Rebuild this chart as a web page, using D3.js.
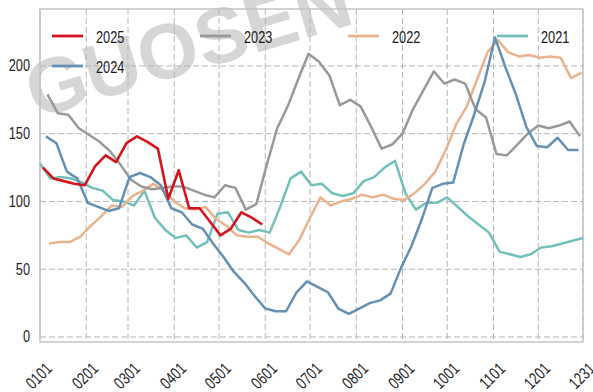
<!DOCTYPE html>
<html>
<head>
<meta charset="utf-8">
<script src="https://cdn.jsdelivr.net/npm/d3@7"></script>
<style>
  html, body { margin: 0; padding: 0; background: #fff; }
  #chart { width: 593px; height: 392px; }
</style>
</head>
<body>
<div id="chart"></div>
<script>
// tick labels on the x axis (MMDD)
const tickLabels = ["0101", "0201", "0301", "0401", "0501", "0601", "0701", "0801", "0901", "1001", "1101", "1201", "1231"];
const yTicks = [0, 50, 100, 150, 200];

const years = ["2025", "2024", "2023", "2022", "2021"];
// first weekly date of every year (data are weekly, on Fridays)
const firstDate = { "2025": "0103", "2024": "0105", "2023": "0106", "2022": "0107", "2021": "0101" };

const v2025 = [125, 117, 115, 113, 112, 126, 134, 129, 143, 148, 144, 139, 102, 123, 95, 95, 85, 75, 80, 92, 88, 83];
const v2024 = [148, 143, 122, 117, 99, 96, 93, 95, 118, 121, 118, 112, 95, 92, 83, 80, 69, 59, 48, 40,
  30, 21, 19, 19, 33, 41, 37, 33, 21, 17, 21, 25, 27, 32, 51, 67, 87, 110, 113, 114,
  142, 164, 188, 221, 199, 179, 155, 141, 140, 147, 138, 138];
const v2023 = [179, 165, 164, 154, 149, 144, 137, 127, 116, 111, 109, 110, 111, 111, 108, 105, 103, 112, 110, 94,
  98, 127, 154, 170, 190, 209, 203, 193, 171, 175, 170, 155, 139, 142, 150, 168, 182, 196, 187, 190,
  187, 168, 162, 135, 134, 142, 150, 156, 154, 156, 159, 148];
const v2022 = [69, 70, 70, 74, 82, 89, 97, 96, 104, 108, 113, 108, 100, 95, 94, 96, 87, 82, 75, 74,
  74, 69, 65, 61, 72, 88, 103, 97, 100, 102, 105, 103, 105, 102, 101, 106, 113, 122, 138, 157,
  170, 190, 210, 219, 210, 207, 208, 206, 207, 206, 191, 195];
const v2021 = [128, 117, 118, 117, 114, 110, 108, 101, 100, 97, 108, 88, 79, 73, 75, 66, 70, 91, 92, 79,
  77, 79, 77, 96, 117, 122, 112, 113, 106, 104, 106, 115, 118, 125, 130, 106, 94, 99, 99, 103,
  96, 89, 83, 77, 63, 61, 59, 61, 66, 67, 69, 71, 73];

const valuesByYear = { "2025": v2025, "2024": v2024, "2023": v2023, "2022": v2022, "2021": v2021 };
const colors = { "2025": "#d4151f", "2024": "#6690b2", "2023": "#999999", "2022": "#eab38e", "2021": "#72c0b9" };

const width = 593, height = 392;
const plotLeft = 40, plotRight = 583, plotTop = 9, plotBottom = 342;
const font = "'Liberation Sans', Arial, sans-serif";
const digitW = 7.1; // narrow digits, as in the original

// day of year (non-leap) from MMDD
const cumDays = [0, 31, 59, 90, 120, 151, 181, 212, 243, 273, 304, 334];
function dayOf(mmdd) {
  return cumDays[+mmdd.slice(0, 2) - 1] + (+mmdd.slice(2)) - 1;
}

const x = d3.scaleLinear().domain([0, 364]).range([plotLeft, plotRight]);
const y = d3.scaleLinear().domain([-3.7, 242]).range([plotBottom, plotTop]);

const svg = d3.select("#chart").append("svg")
  .attr("width", width)
  .attr("height", height)
  .style("font-family", font);

// watermark
svg.append("g")
  .attr("transform", "translate(188,44) rotate(-16.6)")
  .append("text")
  .attr("y", 28)
  .attr("text-anchor", "middle")
  .attr("font-weight", "bold")
  .attr("font-size", "78px")
  .attr("textLength", 335)
  .attr("lengthAdjust", "spacingAndGlyphs")
  .attr("fill", "#d6d6d6")
  .text("GUOSEN");

// grid
const grid = svg.append("g");
grid.selectAll(".hgrid").data(yTicks).join("line")
  .attr("x1", plotLeft).attr("x2", plotRight)
  .attr("y1", d => y(d)).attr("y2", d => y(d))
  .attr("stroke", "#b5b5b5").attr("stroke-width", 1)
  .attr("stroke-dasharray", "6,3");
grid.selectAll(".vgrid").data(tickLabels).join("line")
  .attr("x1", d => x(dayOf(d))).attr("x2", d => x(dayOf(d)))
  .attr("y1", plotTop).attr("y2", plotBottom)
  .attr("stroke", "#b5b5b5").attr("stroke-width", 1)
  .attr("stroke-dasharray", "6,3");

// frame
svg.append("rect")
  .attr("x", plotLeft).attr("y", plotTop)
  .attr("width", plotRight - plotLeft).attr("height", plotBottom - plotTop)
  .attr("fill", "none")
  .attr("stroke", "#c4c4c4")
  .attr("stroke-width", 1.5);

// y axis labels
svg.append("g").selectAll("text").data(yTicks).join("text")
  .attr("x", 30)
  .attr("y", d => y(d))
  .attr("text-anchor", "end")
  .attr("dominant-baseline", "central")
  .attr("font-size", "17px")
  .attr("textLength", d => String(d).length * digitW)
  .attr("lengthAdjust", "spacingAndGlyphs")
  .attr("fill", "#262626")
  .text(d => d);

// x axis labels, rotated
svg.append("g").selectAll("text").data(tickLabels).join("text")
  .attr("transform", d => `translate(${x(dayOf(d)) - 1},376) rotate(-45)`)
  .attr("text-anchor", "middle")
  .attr("dominant-baseline", "central")
  .attr("font-size", "17px")
  .attr("textLength", d => d.length * digitW)
  .attr("lengthAdjust", "spacingAndGlyphs")
  .attr("fill", "#262626")
  .text(d => d);

// lines
const line = d3.line()
  .x(d => x(d.day))
  .y(d => y(d.value));

const drawOrder = ["2021", "2022", "2023", "2024", "2025"];
drawOrder.forEach(yr => {
  const start = dayOf(firstDate[yr]);
  const pts = valuesByYear[yr].map((v, i) => ({ day: start + 7 * i, value: v }));
  svg.append("path")
    .datum(pts)
    .attr("d", line)
    .attr("fill", "none")
    .attr("stroke", colors[yr])
    .attr("stroke-width", yr === "2025" ? 2.6 : 2.5)
    .attr("stroke-linejoin", "round");
});

// legend: 4 columns, filled column by column
const legendPos = {
  "2025": [52, 36], "2024": [52, 66],
  "2023": [200, 36], "2022": [348, 36], "2021": [497, 36]
};
const legend = svg.append("g");
years.forEach(yr => {
  const [lx, ly] = legendPos[yr];
  legend.append("line")
    .attr("x1", lx).attr("x2", lx + 31)
    .attr("y1", ly).attr("y2", ly)
    .attr("stroke", colors[yr])
    .attr("stroke-width", 2.8);
  legend.append("text")
    .attr("x", lx + 44)
    .attr("y", ly + 1)
    .attr("dominant-baseline", "central")
    .attr("font-size", "17px")
    .attr("textLength", yr.length * digitW)
    .attr("lengthAdjust", "spacingAndGlyphs")
    .attr("fill", "#1a1a1a")
    .text(yr);
});
</script>
</body>
</html>
